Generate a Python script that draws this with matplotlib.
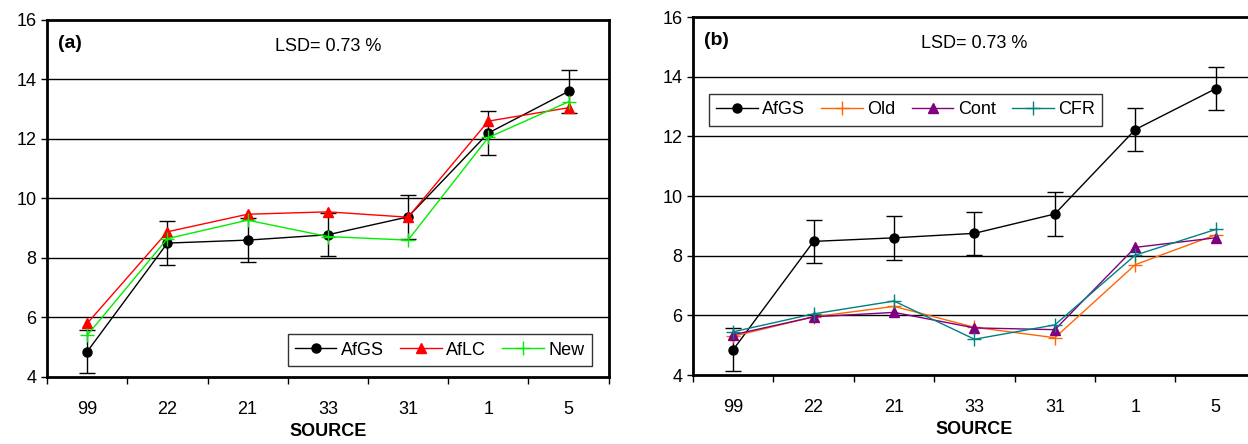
import numpy as np
import matplotlib
matplotlib.use("Agg")
import matplotlib.pyplot as plt

plt.rcParams['font.family'] = ['Liberation Sans', 'DejaVu Sans']

# data
sources = ['99', '22', '21', '33', '31', '1', '5']
lsd = 0.73

afgs_a = [4.85, 8.50, 8.60, 8.78, 9.38, 12.20, 13.60]
aflc_a = [5.80, 8.88, 9.47, 9.55, 9.37, 12.60, 13.05]
new_a = [5.40, 8.65, 9.27, 8.72, 8.60, 12.05, 13.25]

afgs_b = [4.85, 8.48, 8.60, 8.75, 9.40, 12.23, 13.60]
old_b = [5.30, 5.95, 6.30, 5.60, 5.25, 7.70, 8.70]
cont_b = [5.35, 5.95, 6.10, 5.58, 5.52, 8.28, 8.60]
cfr_b = [5.45, 6.05, 6.48, 5.20, 5.68, 8.02, 8.88]

fig = plt.figure(figsize=(12.48, 4.44), dpi=100)
ax1 = fig.add_axes([0.0377, 0.151, 0.450, 0.804])
ax2 = fig.add_axes([0.5553, 0.1554, 0.451, 0.806])

x = np.arange(1, len(sources) + 1)


def style_axes(ax, label):
    ax.set_xlim(0.5, 7.5)
    ax.set_ylim(4, 16)
    ax.set_yticks([4, 6, 8, 10, 12, 14, 16])
    ax.set_xticks(np.arange(0.5, 8.0, 1.0))
    ax.set_xticklabels([])
    ax.set_xticks(x, minor=True)
    ax.set_xticklabels(sources, minor=True)
    ax.tick_params(axis='x', which='major', direction='out', length=5, width=1, color='black')
    ax.tick_params(axis='x', which='minor', length=0, labelsize=13, pad=17)
    ax.tick_params(axis='y', direction='out', length=4, width=1, labelsize=13)
    for yv in [6, 8, 10, 12, 14]:
        ax.axhline(yv, color='black', lw=1.0, zorder=1)
    for sp in ax.spines.values():
        sp.set_linewidth(2)
    ax.set_xlabel('SOURCE', fontsize=13, fontweight='bold', labelpad=4)
    ax.text(0.02, 0.935, label, transform=ax.transAxes, fontsize=14, fontweight='bold', va='center')
    ax.text(0.5, 0.927, 'LSD= 0.73 %', transform=ax.transAxes, fontsize=13, ha='center', va='center')


def afgs(ax, vals):
    ax.errorbar(x, vals, yerr=lsd, fmt='none', ecolor='black', elinewidth=1,
                capsize=6, capthick=1, zorder=3)
    ax.plot(x, vals, color='black', lw=1, marker='o', ms=6.5, label='AfGS', zorder=3)


leg_kw = dict(fontsize=13, frameon=True, fancybox=False, edgecolor='black',
              handlelength=2.3, columnspacing=0.9, handletextpad=0.25,
              borderpad=0.4, borderaxespad=0)

# panel (a)
style_axes(ax1, '(a)')
afgs(ax1, afgs_a)
ax1.plot(x, aflc_a, color='#FF0000', lw=1, marker='^', ms=7.5, label='AfLC', zorder=4)
ax1.plot(x, new_a, color='#00EE00', lw=1, marker='+', ms=10, mew=1, label='New', zorder=5)
leg1 = ax1.legend(loc='lower right', bbox_to_anchor=(0.970, 0.031), ncol=3, **leg_kw)
leg1.get_frame().set_linewidth(1)

# panel (b)
style_axes(ax2, '(b)')
afgs(ax2, afgs_b)
ax2.plot(x, old_b, color='#FF6600', lw=1, marker='+', ms=10, mew=1, label='Old', zorder=4)
ax2.plot(x, cont_b, color='#800080', lw=1, marker='^', ms=7.5, label='Cont', zorder=5)
ax2.plot(x, cfr_b, color='#008080', lw=1, marker='+', ms=10, mew=1, label='CFR', zorder=6)
leg2 = ax2.legend(loc='upper left', bbox_to_anchor=(0.028, 0.785), ncol=4, **leg_kw)
leg2.get_frame().set_linewidth(1)

fig.savefig('out.png', dpi=100)
